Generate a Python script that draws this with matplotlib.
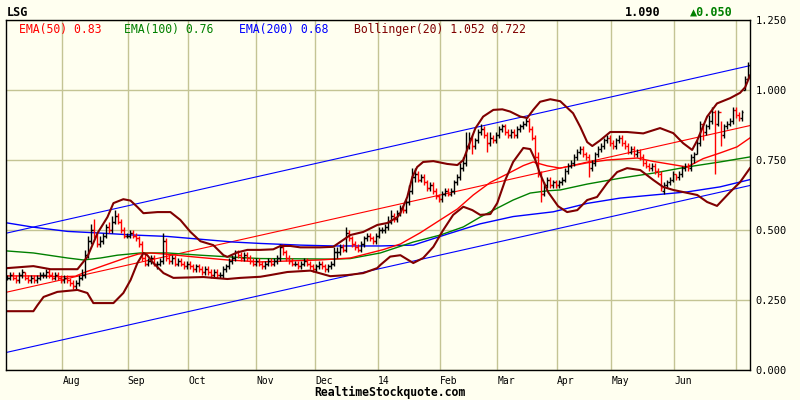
import matplotlib
matplotlib.use('Agg')
import matplotlib.pyplot as plt

# daily bars, day 0 = mid July 2013, last day = early July 2014
close = [0.33, 0.34, 0.33, 0.32, 0.34, 0.35, 0.33, 0.32, 0.33, 0.32,
         0.33, 0.34, 0.34, 0.35, 0.34, 0.33, 0.34, 0.33, 0.32, 0.33,
         0.32, 0.31, 0.30, 0.31, 0.33, 0.34, 0.41, 0.46, 0.50, 0.48,
         0.45, 0.46, 0.48, 0.51, 0.50, 0.53, 0.55, 0.53, 0.50, 0.48,
         0.48, 0.49, 0.48, 0.47, 0.45, 0.40, 0.38, 0.39, 0.40, 0.38,
         0.38, 0.39, 0.46, 0.40, 0.39, 0.40, 0.38, 0.39, 0.38, 0.37,
         0.38, 0.37, 0.36, 0.37, 0.36, 0.35, 0.36, 0.35, 0.34, 0.35,
         0.34, 0.34, 0.36, 0.37, 0.39, 0.40, 0.42, 0.41, 0.40, 0.41,
         0.40, 0.39, 0.38, 0.39, 0.38, 0.37, 0.38, 0.39, 0.38, 0.39,
         0.40, 0.44, 0.42, 0.40, 0.39, 0.38, 0.38, 0.37, 0.38, 0.39,
         0.38, 0.37, 0.36, 0.37, 0.38, 0.37, 0.36, 0.37, 0.38, 0.42,
         0.42, 0.44, 0.43, 0.49, 0.47, 0.45, 0.44, 0.43, 0.45, 0.47,
         0.48, 0.47, 0.46, 0.48, 0.50, 0.50, 0.51, 0.53, 0.55, 0.54,
         0.56, 0.58, 0.57, 0.60, 0.64, 0.69, 0.70, 0.68, 0.69, 0.67,
         0.65, 0.66, 0.64, 0.62, 0.61, 0.63, 0.64, 0.63, 0.64, 0.67,
         0.69, 0.72, 0.74, 0.80, 0.83, 0.80, 0.82, 0.85, 0.86, 0.84,
         0.81, 0.83, 0.82, 0.84, 0.86, 0.87, 0.85, 0.84, 0.85, 0.84,
         0.86, 0.87, 0.88, 0.89, 0.86, 0.83, 0.76, 0.70, 0.63, 0.66,
         0.68, 0.66, 0.67, 0.66, 0.67, 0.68, 0.71, 0.73, 0.74, 0.76,
         0.78, 0.79, 0.77, 0.76, 0.72, 0.74, 0.77, 0.79, 0.80, 0.82,
         0.83, 0.81, 0.80, 0.82, 0.83, 0.81, 0.80, 0.78, 0.79, 0.77,
         0.78, 0.76, 0.74, 0.73, 0.72, 0.73, 0.71, 0.70, 0.65, 0.66,
         0.67, 0.68, 0.70, 0.69, 0.70, 0.72, 0.73, 0.72, 0.76, 0.77,
         0.81, 0.88, 0.85, 0.87, 0.89, 0.92, 0.88, 0.92, 0.84, 0.87,
         0.88, 0.89, 0.93, 0.91, 0.90, 0.92, 1.04, 1.09]

opens = [0.33, 0.33, 0.34, 0.33, 0.32, 0.34, 0.35, 0.33, 0.32, 0.33,
         0.32, 0.33, 0.34, 0.34, 0.35, 0.34, 0.33, 0.34, 0.33, 0.32,
         0.33, 0.32, 0.31, 0.30, 0.31, 0.33, 0.34, 0.41, 0.46, 0.50,
         0.48, 0.45, 0.46, 0.48, 0.51, 0.50, 0.53, 0.55, 0.53, 0.50,
         0.48, 0.48, 0.49, 0.48, 0.47, 0.45, 0.40, 0.38, 0.39, 0.40,
         0.38, 0.38, 0.39, 0.46, 0.40, 0.39, 0.40, 0.38, 0.39, 0.38,
         0.37, 0.38, 0.37, 0.36, 0.37, 0.36, 0.35, 0.36, 0.35, 0.34,
         0.35, 0.34, 0.34, 0.36, 0.37, 0.39, 0.40, 0.42, 0.41, 0.40,
         0.41, 0.40, 0.39, 0.38, 0.39, 0.38, 0.37, 0.38, 0.39, 0.38,
         0.39, 0.40, 0.44, 0.42, 0.40, 0.39, 0.38, 0.38, 0.37, 0.38,
         0.39, 0.38, 0.37, 0.36, 0.37, 0.38, 0.37, 0.36, 0.37, 0.38,
         0.42, 0.42, 0.44, 0.43, 0.49, 0.47, 0.45, 0.44, 0.43, 0.45,
         0.47, 0.48, 0.47, 0.46, 0.48, 0.50, 0.50, 0.51, 0.53, 0.55,
         0.54, 0.56, 0.58, 0.57, 0.60, 0.64, 0.69, 0.70, 0.68, 0.69,
         0.67, 0.65, 0.66, 0.64, 0.62, 0.61, 0.63, 0.64, 0.63, 0.64,
         0.67, 0.69, 0.72, 0.74, 0.80, 0.83, 0.80, 0.82, 0.85, 0.86,
         0.84, 0.81, 0.83, 0.82, 0.84, 0.86, 0.87, 0.85, 0.84, 0.85,
         0.84, 0.86, 0.87, 0.88, 0.89, 0.86, 0.83, 0.76, 0.70, 0.63,
         0.66, 0.68, 0.66, 0.67, 0.66, 0.67, 0.68, 0.71, 0.73, 0.74,
         0.76, 0.78, 0.79, 0.77, 0.76, 0.72, 0.74, 0.77, 0.79, 0.80,
         0.82, 0.83, 0.81, 0.80, 0.82, 0.83, 0.81, 0.80, 0.78, 0.79,
         0.77, 0.78, 0.76, 0.74, 0.73, 0.72, 0.73, 0.71, 0.70, 0.64,
         0.66, 0.67, 0.68, 0.70, 0.69, 0.70, 0.72, 0.73, 0.72, 0.76,
         0.77, 0.81, 0.88, 0.85, 0.87, 0.89, 0.92, 0.88, 0.92, 0.84,
         0.87, 0.88, 0.89, 0.93, 0.91, 0.90, 1.00, 1.04]

high = [0.34, 0.35, 0.35, 0.34, 0.35, 0.36, 0.35, 0.34, 0.34, 0.34,
        0.34, 0.35, 0.35, 0.36, 0.36, 0.35, 0.35, 0.35, 0.34, 0.34,
        0.34, 0.33, 0.32, 0.32, 0.34, 0.36, 0.43, 0.48, 0.52, 0.54,
        0.49, 0.48, 0.49, 0.52, 0.53, 0.55, 0.57, 0.56, 0.54, 0.51,
        0.49, 0.50, 0.50, 0.49, 0.48, 0.46, 0.42, 0.40, 0.41, 0.41,
        0.39, 0.40, 0.49, 0.47, 0.41, 0.41, 0.41, 0.40, 0.40, 0.39,
        0.39, 0.39, 0.38, 0.38, 0.38, 0.37, 0.37, 0.37, 0.36, 0.36,
        0.36, 0.35, 0.37, 0.38, 0.40, 0.41, 0.43, 0.43, 0.42, 0.42,
        0.42, 0.41, 0.40, 0.40, 0.40, 0.39, 0.39, 0.40, 0.40, 0.40,
        0.41, 0.45, 0.45, 0.43, 0.41, 0.40, 0.39, 0.39, 0.39, 0.40,
        0.40, 0.39, 0.38, 0.38, 0.39, 0.39, 0.38, 0.38, 0.39, 0.44,
        0.44, 0.45, 0.45, 0.51, 0.50, 0.48, 0.46, 0.45, 0.46, 0.48,
        0.49, 0.49, 0.48, 0.49, 0.51, 0.51, 0.52, 0.55, 0.57, 0.56,
        0.57, 0.59, 0.59, 0.61, 0.66, 0.72, 0.72, 0.71, 0.70, 0.70,
        0.68, 0.67, 0.67, 0.65, 0.63, 0.64, 0.65, 0.65, 0.65, 0.68,
        0.70, 0.74, 0.76, 0.85, 0.85, 0.84, 0.83, 0.86, 0.88, 0.87,
        0.85, 0.85, 0.84, 0.85, 0.87, 0.88, 0.88, 0.86, 0.86, 0.86,
        0.87, 0.88, 0.89, 0.90, 0.90, 0.87, 0.84, 0.78, 0.71, 0.67,
        0.69, 0.69, 0.68, 0.68, 0.68, 0.69, 0.72, 0.74, 0.75, 0.77,
        0.79, 0.80, 0.80, 0.78, 0.77, 0.75, 0.78, 0.80, 0.81, 0.83,
        0.84, 0.84, 0.82, 0.83, 0.84, 0.84, 0.82, 0.81, 0.80, 0.80,
        0.79, 0.79, 0.77, 0.75, 0.74, 0.74, 0.74, 0.72, 0.71, 0.67,
        0.68, 0.69, 0.71, 0.70, 0.71, 0.73, 0.74, 0.74, 0.77, 0.78,
        0.82, 0.89, 0.88, 0.88, 0.91, 0.94, 0.93, 0.93, 0.89, 0.88,
        0.89, 0.90, 0.94, 0.94, 0.92, 0.93, 1.05, 1.10]

low = [0.32, 0.32, 0.32, 0.31, 0.31, 0.33, 0.32, 0.31, 0.31, 0.31,
       0.31, 0.32, 0.33, 0.33, 0.33, 0.32, 0.32, 0.32, 0.31, 0.31,
       0.31, 0.30, 0.29, 0.29, 0.30, 0.32, 0.33, 0.40, 0.45, 0.47,
       0.44, 0.44, 0.45, 0.47, 0.49, 0.49, 0.52, 0.52, 0.49, 0.47,
       0.47, 0.47, 0.47, 0.46, 0.44, 0.39, 0.37, 0.37, 0.38, 0.37,
       0.36, 0.37, 0.38, 0.39, 0.38, 0.38, 0.37, 0.37, 0.37, 0.36,
       0.36, 0.36, 0.35, 0.35, 0.35, 0.34, 0.34, 0.34, 0.33, 0.33,
       0.33, 0.33, 0.33, 0.35, 0.36, 0.38, 0.39, 0.40, 0.39, 0.39,
       0.39, 0.38, 0.37, 0.37, 0.37, 0.36, 0.36, 0.37, 0.37, 0.37,
       0.38, 0.39, 0.41, 0.39, 0.38, 0.37, 0.37, 0.36, 0.36, 0.37,
       0.37, 0.36, 0.35, 0.35, 0.36, 0.36, 0.35, 0.35, 0.36, 0.37,
       0.40, 0.41, 0.42, 0.42, 0.46, 0.44, 0.43, 0.42, 0.42, 0.44,
       0.46, 0.46, 0.45, 0.45, 0.47, 0.49, 0.49, 0.50, 0.52, 0.53,
       0.53, 0.55, 0.56, 0.56, 0.59, 0.63, 0.67, 0.67, 0.67, 0.66,
       0.64, 0.64, 0.63, 0.61, 0.60, 0.60, 0.62, 0.62, 0.62, 0.63,
       0.66, 0.68, 0.71, 0.73, 0.79, 0.77, 0.79, 0.81, 0.84, 0.83,
       0.78, 0.80, 0.81, 0.81, 0.83, 0.85, 0.84, 0.83, 0.83, 0.83,
       0.83, 0.85, 0.86, 0.87, 0.85, 0.82, 0.74, 0.69, 0.60, 0.62,
       0.65, 0.65, 0.65, 0.65, 0.65, 0.66, 0.67, 0.70, 0.72, 0.73,
       0.75, 0.77, 0.76, 0.75, 0.69, 0.71, 0.73, 0.76, 0.78, 0.79,
       0.81, 0.80, 0.79, 0.79, 0.81, 0.80, 0.79, 0.77, 0.77, 0.76,
       0.76, 0.75, 0.73, 0.72, 0.71, 0.71, 0.70, 0.69, 0.64, 0.63,
       0.65, 0.66, 0.67, 0.68, 0.68, 0.69, 0.71, 0.71, 0.71, 0.74,
       0.77, 0.80, 0.82, 0.84, 0.86, 0.88, 0.70, 0.87, 0.80, 0.83,
       0.86, 0.87, 0.88, 0.90, 0.89, 0.89, 1.00, 1.04]

# indicator curves, sampled off the chart (day position, value)
ema50_d = [0.2, 11.2, 18.5, 22.8, 26.2, 32.8, 39.5, 43.8, 47.8, 52.8, 62.2, 73.5,
           84.5, 95.5, 104.5, 114.5, 125.5, 131.2, 137.8, 144.5, 150.2, 155.5,
           161.2, 166.8, 172.2, 175.5, 180.2, 184.5, 193.5, 200.2, 210.2, 215.5,
           221.2, 226.8, 232.2, 237.8, 243.5, 247.8]
ema50_v = [0.336, 0.336, 0.333, 0.335, 0.35, 0.375, 0.40, 0.414, 0.418, 0.414, 0.404, 0.393,
           0.386, 0.39, 0.393, 0.40, 0.43, 0.45, 0.49, 0.536, 0.575, 0.625,
           0.67, 0.70, 0.73, 0.743, 0.729, 0.721, 0.74, 0.75, 0.757, 0.745,
           0.735, 0.725, 0.755, 0.775, 0.797, 0.829]

ema100_d = [0.2, 8.8, 20.2, 25.5, 31.2, 36.8, 44.5, 53.5, 64.5, 75.5, 84.5, 97.8,
            108.8, 114.5, 124.5, 135.5, 144.5, 152.2, 157.8, 163.5, 168.8, 174.5,
            180.2, 184.5, 193.5, 204.5, 215.5, 226.8, 237.8, 247.8]
ema100_v = [0.425, 0.418, 0.40, 0.393, 0.40, 0.41, 0.418, 0.418, 0.41, 0.403, 0.398, 0.397,
            0.396, 0.398, 0.418, 0.457, 0.482, 0.511, 0.546, 0.578, 0.607, 0.632,
            0.64, 0.643, 0.664, 0.685, 0.703, 0.725, 0.743, 0.761]

ema200_d = [0.2, 8.8, 20.2, 31.2, 42.2, 53.5, 64.5, 75.5, 84.5, 97.8, 108.8, 124.5,
            135.5, 146.8, 157.8, 168.8, 182.2, 193.5, 204.5, 215.5, 226.8, 237.8, 247.8]
ema200_v = [0.525, 0.51, 0.495, 0.489, 0.482, 0.477, 0.467, 0.457, 0.452, 0.446, 0.443, 0.443,
            0.446, 0.485, 0.522, 0.548, 0.565, 0.595, 0.614, 0.625, 0.636, 0.654, 0.68]

bb_up_d = [0.2, 8.8, 14.5, 23.5, 26.8, 30.2, 33.5, 35.5, 38.8, 41.2, 43.5, 45.5,
           50.2, 54.5, 57.8, 61.2, 64.5, 68.8, 72.2, 73.5, 76.8, 80.2, 84.5, 88.8,
           91.2, 94.5, 97.8, 104.5, 108.8, 114.5, 118.8, 123.5, 126.8, 130.2, 131.2,
           133.5, 135.2, 136.8, 138.8, 142.2, 146.8, 150.2, 152.2, 153.8, 156.2,
           158.8, 162.2, 165.2, 167.8, 171.2, 173.5, 175.5, 177.8, 181.2, 184.5,
           188.8, 191.2, 193.5, 195.2, 197.8, 201.2, 206.8, 212.2, 217.8, 222.2,
           225.5, 228.5, 230.2, 233.5, 236.8, 241.2, 244.5, 246.2, 247.8]
bb_up_v = [0.364, 0.371, 0.36, 0.36, 0.404, 0.489, 0.546, 0.596, 0.61, 0.605, 0.582, 0.56,
           0.564, 0.564, 0.536, 0.493, 0.46, 0.446, 0.41, 0.404, 0.42, 0.429, 0.429, 0.431,
           0.443, 0.443, 0.438, 0.438, 0.44, 0.482, 0.493, 0.518, 0.525, 0.546, 0.56,
           0.618, 0.69, 0.725, 0.743, 0.746, 0.736, 0.732, 0.75, 0.796, 0.863,
           0.905, 0.929, 0.931, 0.923, 0.905, 0.90, 0.929, 0.958, 0.967, 0.96,
           0.917, 0.868, 0.814, 0.80, 0.82, 0.85, 0.85, 0.845, 0.864, 0.846,
           0.81, 0.786, 0.82, 0.905, 0.952, 0.971, 0.99, 1.01, 1.052]

bb_lo_d = [0.2, 8.8, 10.2, 12.2, 16.8, 23.5, 26.8, 28.8, 35.5, 38.8, 41.2, 43.5,
           45.5, 46.8, 48.8, 52.2, 55.5, 65.5, 73.5, 77.8, 84.5, 87.8, 93.5, 101.2,
           107.8, 113.5, 118.8, 123.5, 124.5, 127.8, 131.2, 135.5, 138.8, 142.2, 145.5,
           148.8, 152.2, 155.2, 157.8, 161.2, 163.5, 166.2, 168.8, 172.2, 174.5,
           176.2, 177.8, 180.5, 183.8, 186.8, 190.2, 193.5, 196.8, 200.2, 203.5,
           206.8, 211.2, 215.5, 218.8, 222.2, 230.2, 233.5, 236.8, 241.2, 244.5, 247.8]
bb_lo_v = [0.21, 0.21, 0.232, 0.261, 0.279, 0.286, 0.275, 0.239, 0.239, 0.275, 0.321, 0.382,
           0.418, 0.41, 0.382, 0.346, 0.329, 0.332, 0.325, 0.329, 0.333, 0.339, 0.35, 0.355,
           0.335, 0.339, 0.346, 0.364, 0.375, 0.405, 0.41, 0.382, 0.40, 0.44, 0.50,
           0.554, 0.583, 0.571, 0.554, 0.557, 0.596, 0.679, 0.743, 0.793, 0.789,
           0.75, 0.70, 0.635, 0.585, 0.564, 0.571, 0.607, 0.618, 0.668, 0.707,
           0.721, 0.714, 0.679, 0.654, 0.643, 0.625, 0.60, 0.586, 0.636, 0.671, 0.721]

# linear trend channel, end points
chan_d = [-0.5, 247.8]
chan_up = [0.488, 1.087]
chan_mid = [0.277, 0.873]
chan_lo = [0.062, 0.659]

month_pos = [18.5, 40.2, 60.5, 83.2, 102.8, 123.8, 144.5, 163.5, 183.5, 201.5, 222.5, 243.2]
month_lab = ['Aug', 'Sep', 'Oct', 'Nov', 'Dec', '14', 'Feb', 'Mar', 'Apr', 'May', 'Jun', '']
yticks = [0, 0.25, 0.5, 0.75, 1.0, 1.25]

bg = '#fffff0'
grid = '#c4c494'
mono = 'DejaVu Sans Mono'

fig = plt.figure(figsize=(8, 4), dpi=100, facecolor=bg)
ax = fig.add_axes([5.5 / 800, 30 / 400, 744.5 / 800, 350 / 400])
ax.set_facecolor(bg)
ax.set_xlim(-0.5, 247.8)
ax.set_ylim(0, 1.25)

ax.set_xticks(month_pos)
ax.set_xticklabels(month_lab, ha='left', fontsize=7, family=mono)
ax.set_yticks(yticks)
ax.set_yticklabels(['%.3f' % v for v in yticks], fontsize=7.5, family=mono)
ax.yaxis.tick_right()
ax.tick_params(length=0, pad=4)
ax.grid(True, color=grid, lw=1.0)
ax.set_axisbelow(True)
for s in ax.spines.values():
    s.set_linewidth(1.0)

# trend channel
ax.plot(chan_d, chan_up, color='#0000ff', lw=0.8)
ax.plot(chan_d, chan_lo, color='#0000ff', lw=0.8)
ax.plot(chan_d, chan_mid, color='#ff0000', lw=0.8)

# moving averages
ax.plot(ema200_d, ema200_v, color='#0000ff', lw=1.0)
ax.plot(ema100_d, ema100_v, color='#008000', lw=1.0)
ax.plot(ema50_d, ema50_v, color='#ff0000', lw=1.0)

# OHLC bars
days = list(range(len(close)))
cols = ['#000000' if c >= o else '#ff0000' for o, c in zip(opens, close)]
ax.vlines(days, low, high, colors=cols, lw=1.0)
ax.hlines(opens, [d - 0.6 for d in days], days, colors=cols, lw=1.0)
ax.hlines(close, days, [d + 0.6 for d in days], colors=cols, lw=1.0)

# bollinger bands
ax.plot(bb_up_d, bb_up_v, color='#800000', lw=1.5)
ax.plot(bb_lo_d, bb_lo_v, color='#800000', lw=1.5)

# header texts
fig.text(7 / 800, 1 - 12 / 400, 'LSG', fontsize=8.5, family=mono, weight='bold', va='center')
fig.text(625 / 800, 1 - 12 / 400, '1.090', fontsize=8.5, family=mono, weight='bold', va='center')
fig.text(690 / 800, 1 - 12 / 400, '\u25b20.050', fontsize=8.5, family=mono, weight='bold',
         color='#008000', va='center')

legend = [(19, 'EMA(50) 0.83', '#ff0000'), (124, 'EMA(100) 0.76', '#008000'),
          (239, 'EMA(200) 0.68', '#0000ff'), (354, 'Bollinger(20) 1.052 0.722', '#800000')]
for x, t, c in legend:
    fig.text(x / 800, 1 - 30 / 400, t, fontsize=8.3, family=mono, color=c, va='center')

fig.text(390 / 800, 1 - 392 / 400, 'RealtimeStockquote.com', fontsize=8.3, family=mono,
         weight='bold', ha='center', va='center')

fig.savefig('out.png', dpi=100, facecolor=bg)
